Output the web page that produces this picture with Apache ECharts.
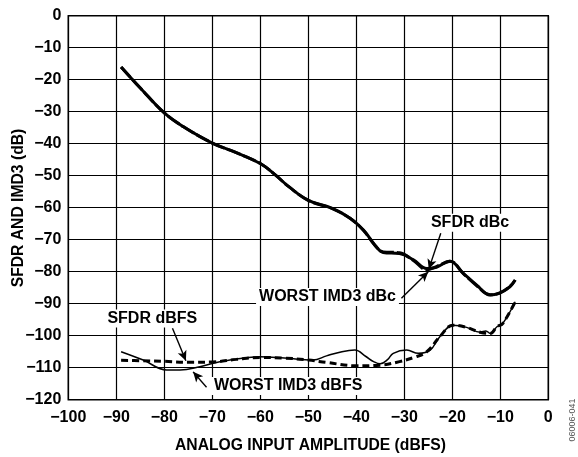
<!DOCTYPE html>
<html>
<head>
<meta charset="utf-8">
<script src="https://cdn.jsdelivr.net/npm/echarts@6/dist/echarts.min.js"></script>
<style>
  html, body { margin: 0; padding: 0; background: #fff; }
  #chart { width: 578px; height: 457px; }
</style>
</head>
<body>
<div id="chart"></div>
<script>
// Input amplitude (dBFS) and measured level (dB) pairs for each trace
const sfdrDbc = [
  [-89, -16], [-85, -22.6], [-80, -30.4], [-76, -34.7], [-70, -39.8], [-65, -42.8],
  [-60, -46.2], [-57, -49.6], [-54, -53.5], [-50, -57.7], [-45, -60.2], [-41.3, -63.3],
  [-38.5, -67], [-36.1, -71.7], [-34.4, -74], [-31, -74.3], [-28.1, -76.3], [-25.3, -79],
  [-23.3, -78.6], [-20.5, -76.7], [-17.7, -80.5], [-14.9, -84.2], [-12.1, -87.3],
  [-10.1, -86.6], [-8, -84.7], [-6.9, -82.6]
];
const worstImd3Dbc = [
  [-89, -16], [-85, -22.6], [-80, -30.4], [-76, -34.7], [-70, -39.8], [-65, -42.8],
  [-60, -46.2], [-57, -49.6], [-54, -53.5], [-50, -57.7], [-45, -60.3], [-41.3, -63.3],
  [-38.5, -67.1], [-36.1, -71.8], [-34.4, -73.8], [-31, -74.1], [-28.1, -76.5], [-25.3, -79.4],
  [-23.3, -78.4], [-20.5, -76.7], [-17.7, -80.6], [-14.9, -84.4], [-12.1, -87.2],
  [-10.1, -86.7], [-8, -84.6], [-6.9, -82.6]
];
const sfdrDbfs = [
  [-89, -107.7], [-85, -107.8], [-80, -108], [-75, -108.3], [-70, -108.2], [-65, -107.4],
  [-60, -106.8], [-55, -107], [-50, -107.6], [-46, -108.4], [-40, -109.4], [-35, -109.2],
  [-31, -108.1], [-28, -106.8], [-25.3, -105], [-22.6, -100.3], [-19.8, -96.7], [-17, -97.4],
  [-14.2, -98.9], [-12.1, -99.3], [-10.7, -97.2], [-9.5, -96.2], [-6.9, -89.4]
];
const worstImd3Dbfs = [
  [-89, -105], [-84.4, -107.6], [-79.5, -110.7], [-76.7, -110.7], [-72.6, -109.7],
  [-69.8, -108.6], [-65, -107.3], [-60, -106.6], [-55, -107], [-49, -107.6], [-46.2, -106.3],
  [-43, -105], [-40.3, -104.5], [-38, -106.5], [-36.4, -108.1], [-35, -108.8], [-33.5, -107.5],
  [-32.3, -105.5], [-29.5, -104.5], [-27.1, -105.5], [-24.6, -104.5], [-22.6, -100.3],
  [-19.8, -96.7], [-17, -97.4], [-14.2, -98.9], [-13, -98.5], [-12.1, -99.3], [-10.7, -97.2],
  [-9.5, -96.2], [-6.9, -89.4]
];

// Callout labels: text anchor and arrow (from -> to), in data units
const callouts = [
  { text: 'SFDR dBc',        at: [-16.3, -64.7],  from: [-22.4, -68.0],  to: [-24.9, -79.2] },
  { text: 'WORST IMD3 dBc',  at: [-46.0, -87.9],  from: [-30.6, -88.3],  to: [-25.0, -80.0] },
  { text: 'SFDR dBFS',       at: [-82.5, -94.6],  from: [-78.3, -97.7],  to: [-75.5, -107.8] },
  { text: 'WORST IMD3 dBFS', at: [-54.2, -115.7], from: [-71.2, -116.1], to: [-74.0, -111.3] }
];

const FONT = 'Liberation Sans, Arial, Helvetica, sans-serif';
const minus = v => String(v).replace('-', '\u2212');

const chart = echarts.init(document.getElementById('chart'), null, { renderer: 'canvas' });

const option = {
  animation: false,
  backgroundColor: '#fff',
  grid: {
    left: 68.3, right: 29.7, top: 15.7, bottom: 57.3,
    show: true, borderColor: '#000', borderWidth: 1.5, backgroundColor: 'transparent'
  },
  xAxis: {
    type: 'value', min: -100, max: 0, interval: 10,
    axisLine: { show: false },
    axisTick: { show: false },
    splitLine: { show: true, lineStyle: { color: '#000', width: 1.2 } },
    axisLabel: {
      color: '#000', fontFamily: FONT, fontWeight: 'bold', fontSize: 16, margin: 10,
      formatter: minus
    }
  },
  yAxis: {
    type: 'value', min: -120, max: 0, interval: 10,
    axisLine: { show: false },
    axisTick: { show: false },
    splitLine: { show: true, lineStyle: { color: '#000', width: 1.2 } },
    axisLabel: {
      color: '#000', fontFamily: FONT, fontWeight: 'bold', fontSize: 16, margin: 7,
      formatter: minus
    }
  },
  series: [
    {
      name: 'SFDR dBc', type: 'line', data: sfdrDbc, smooth: 0.4, showSymbol: false,
      lineStyle: { color: '#000', width: 3 }, z: 3
    },
    {
      name: 'WORST IMD3 dBc', type: 'line', data: worstImd3Dbc, smooth: 0.4, showSymbol: false,
      lineStyle: { color: '#000', width: 3, type: [14, 3] }, z: 4
    },
    {
      name: 'WORST IMD3 dBFS', type: 'line', data: worstImd3Dbfs, smooth: 0.4, showSymbol: false,
      lineStyle: { color: '#000', width: 1.5 }, z: 3
    },
    {
      name: 'SFDR dBFS', type: 'line', data: sfdrDbfs, smooth: 0.4, showSymbol: false,
      lineStyle: { color: '#000', width: 3, type: [7, 4] }, z: 4,
      markLine: {
        silent: true, animation: false,
        symbol: ['none', 'arrow'], symbolSize: [7, 10],
        label: { show: false },
        lineStyle: { color: '#000', width: 1.4, type: 'solid' },
        data: callouts.map(c => [{ coord: c.from }, { coord: c.to }])
      }
    }
  ]
};
chart.setOption(option);

// Callout texts and axis titles
const graphics = callouts.map(c => {
  const p = chart.convertToPixel({ gridIndex: 0 }, c.at);
  return {
    type: 'text', x: p[0], y: p[1], z: 10,
    style: {
      text: c.text, fill: '#000', font: 'bold 16px ' + FONT,
      align: 'center', verticalAlign: 'middle',
      backgroundColor: '#fff', padding: [1, 3]
    }
  };
});
graphics.push(
  {
    type: 'text', x: 310.5, y: 445.5, z: 10,
    style: {
      text: 'ANALOG INPUT AMPLITUDE (dBFS)', fill: '#000', font: 'bold 15.7px ' + FONT,
      align: 'center', verticalAlign: 'middle'
    }
  },
  {
    type: 'text', x: 19, y: 208, rotation: Math.PI / 2, z: 10,
    style: {
      text: 'SFDR AND IMD3 (dB)', fill: '#000', font: 'bold 15.7px ' + FONT,
      align: 'center', verticalAlign: 'middle'
    }
  },
  {
    type: 'text', x: 573, y: 420, rotation: Math.PI / 2, z: 10,
    style: {
      text: '06006-041', fill: '#555', font: '9px ' + FONT,
      align: 'center', verticalAlign: 'middle'
    }
  }
);
chart.setOption({ graphic: graphics });
</script>
</body>
</html>
